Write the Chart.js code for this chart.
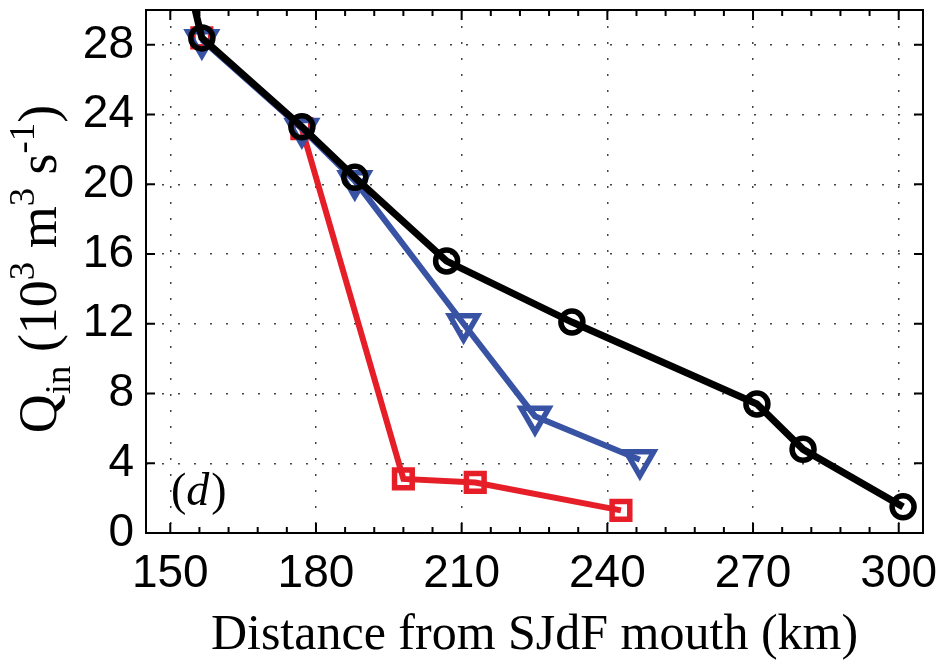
<!DOCTYPE html>
<html>
<head>
<meta charset="utf-8">
<script src="https://cdn.jsdelivr.net/npm/chart.js@4.4.1/dist/chart.umd.min.js"></script>
<style>
  html, body { margin: 0; padding: 0; background: #fff; }
</style>
</head>
<body>
<canvas id="myChart" width="944" height="662"></canvas>
<script>
// Values: distance (km) and Q_in (10^3 m^3 s^-1)
const blackX = [151.7, 156.5, 177.1, 188.0, 206.9, 232.7, 270.8, 280.3, 300.9];
const blackY = [34.0, 28.4, 23.3, 20.4, 15.6, 12.1, 7.4, 4.8, 1.5];
const blueX = [156.5, 177.1, 188.0, 210.4, 225.1, 246.7];
const blueY = [28.3, 23.2, 20.2, 12.0, 6.7, 4.2];
const redX = [156.5, 177.1, 198.0, 212.8, 242.8];
const redY = [28.4, 23.2, 3.1, 2.9, 1.3];

// Axis ticks
const xTicks = [150, 180, 210, 240, 270, 300];
const yTicks = [0, 4, 8, 12, 16, 20, 24, 28];
const panelLabel = 'd';

const toPoints = (xs, ys) => xs.map((v, i) => ({ x: v, y: ys[i] }));

// minor ticks on x every 6 km
const xMinor = [];
for (let v = 150; v <= 300; v += 6) {
    if (!xTicks.includes(v)) xMinor.push(v);
}

const serif = "'Liberation Serif', 'Times New Roman', serif";
const sans = "'Liberation Sans', Arial, Helvetica, sans-serif";

// box, inward ticks, y title with sub/superscripts, panel label
const framePlugin = {
    id: 'frame',
    afterDraw(chart) {
        const { ctx, chartArea: a, scales: { x, y } } = chart;
        ctx.save();
        ctx.strokeStyle = '#000';
        ctx.lineWidth = 2;
        ctx.strokeRect(a.left, a.top, a.right - a.left, a.bottom - a.top);

        ctx.beginPath();
        xTicks.forEach(v => {
            const px = x.getPixelForValue(v);
            ctx.moveTo(px, a.bottom); ctx.lineTo(px, a.bottom - 10);
            ctx.moveTo(px, a.top); ctx.lineTo(px, a.top + 10);
        });
        xMinor.forEach(v => {
            const px = x.getPixelForValue(v);
            ctx.moveTo(px, a.bottom); ctx.lineTo(px, a.bottom - 6);
            ctx.moveTo(px, a.top); ctx.lineTo(px, a.top + 6);
        });
        yTicks.forEach(v => {
            const py = y.getPixelForValue(v);
            ctx.moveTo(a.left, py); ctx.lineTo(a.left + 9, py);
            ctx.moveTo(a.right, py); ctx.lineTo(a.right - 9, py);
        });
        ctx.stroke();

        // y axis title: Q_in (10^3 m^3 s^-1)
        const fs = 54;
        const parts = [
            { t: 'Q', s: 1, dy: 0 },
            { t: 'in', s: 0.68, dy: 0.26 },
            { t: ' (10', s: 1, dy: 0 },
            { t: '3', s: 0.68, dy: -0.4 },
            { t: ' m', s: 1, dy: 0 },
            { t: '3', s: 0.68, dy: -0.4 },
            { t: ' s', s: 1, dy: 0 },
            { t: '-1', s: 0.68, dy: -0.4 },
            { t: ')', s: 1, dy: 0 }
        ];
        ctx.fillStyle = '#000';
        ctx.textBaseline = 'alphabetic';
        ctx.textAlign = 'left';
        let total = 0;
        parts.forEach(p => {
            ctx.font = `${fs * p.s}px ${serif}`;
            p.w = ctx.measureText(p.t).width;
            total += p.w;
        });
        const midY = 269;
        ctx.translate(56, midY + total / 2);
        ctx.rotate(-Math.PI / 2);
        let cx = 0;
        parts.forEach(p => {
            ctx.font = `${fs * p.s}px ${serif}`;
            ctx.fillText(p.t, cx, p.dy * fs);
            cx += p.w;
        });
        ctx.setTransform(1, 0, 0, 1, 0, 0);

        // panel label (d)
        const lx = a.left + 25, ly = a.bottom - 28;
        ctx.font = `46px ${serif}`;
        ctx.fillText('(', lx, ly);
        let w = ctx.measureText('(').width;
        ctx.font = `italic 46px ${serif}`;
        ctx.fillText(panelLabel, lx + w, ly);
        w += ctx.measureText(panelLabel).width;
        ctx.font = `46px ${serif}`;
        ctx.fillText(')', lx + w + 2, ly);
        ctx.restore();
    }
};

const ctx = document.getElementById('myChart').getContext('2d');

const chart = new Chart(ctx, {
    type: 'line',
    data: {
        datasets: [
            {
                label: 'black',
                data: toPoints(blackX, blackY),
                borderColor: '#000000',
                borderWidth: 7,
                pointStyle: 'circle',
                pointRadius: 11,
                pointBorderWidth: 5.5,
                pointBorderColor: '#000000',
                pointBackgroundColor: 'rgba(0,0,0,0)',
                clip: 0
            },
            {
                label: 'blue',
                data: toPoints(blueX, blueY),
                borderColor: '#3953a4',
                borderWidth: 6,
                pointStyle: 'triangle',
                pointRotation: 180,
                pointRadius: 16,
                pointBorderWidth: 5.5,
                pointBorderColor: '#3953a4',
                pointBackgroundColor: 'rgba(0,0,0,0)',
                clip: 0
            },
            {
                label: 'red',
                data: toPoints(redX, redY),
                borderColor: '#e61e28',
                borderWidth: 6,
                pointStyle: 'rect',
                pointRadius: 12.5,
                pointBorderWidth: 5.5,
                pointBorderColor: '#e61e28',
                pointBackgroundColor: 'rgba(0,0,0,0)',
                clip: 0
            }
        ]
    },
    options: {
        responsive: false,
        animation: false,
        devicePixelRatio: 1,
        events: [],
        layout: { autoPadding: false, padding: { top: 10, right: 21, left: 0, bottom: 0 } },
        plugins: {
            legend: { display: false },
            tooltip: { enabled: false }
        },
        scales: {
            x: {
                type: 'linear',
                min: 145,
                max: 305,
                afterBuildTicks: s => { s.ticks = xTicks.map(v => ({ value: v })); },
                afterFit: s => {
                    s.height = 129;
                    s.paddingLeft = 0; s.paddingRight = 0;
                },
                grid: { color: '#444', lineWidth: 1.5, drawTicks: false },
                border: { display: false, dash: [2, 14] },
                ticks: {
                    color: '#000',
                    padding: 14,
                    maxRotation: 0,
                    autoSkip: false,
                    font: { family: sans, size: 46 }
                },
                title: {
                    display: true,
                    text: 'Distance from SJdF mouth (km)',
                    color: '#000',
                    font: { family: serif, size: 50, lineHeight: 1 },
                    padding: { top: 0, bottom: 1 }
                }
            },
            y: {
                type: 'linear',
                min: 0,
                max: 30,
                afterBuildTicks: s => { s.ticks = yTicks.map(v => ({ value: v })); },
                afterFit: s => {
                    s.width = 146;
                    s.paddingTop = 0; s.paddingBottom = 0;
                },
                grid: { color: '#444', lineWidth: 1.5, drawTicks: false },
                border: { display: false, dash: [2, 14] },
                ticks: {
                    color: '#000',
                    padding: 12,
                    autoSkip: false,
                    font: { family: sans, size: 46 }
                }
            }
        }
    },
    plugins: [framePlugin]
});
</script>
</body>
</html>
